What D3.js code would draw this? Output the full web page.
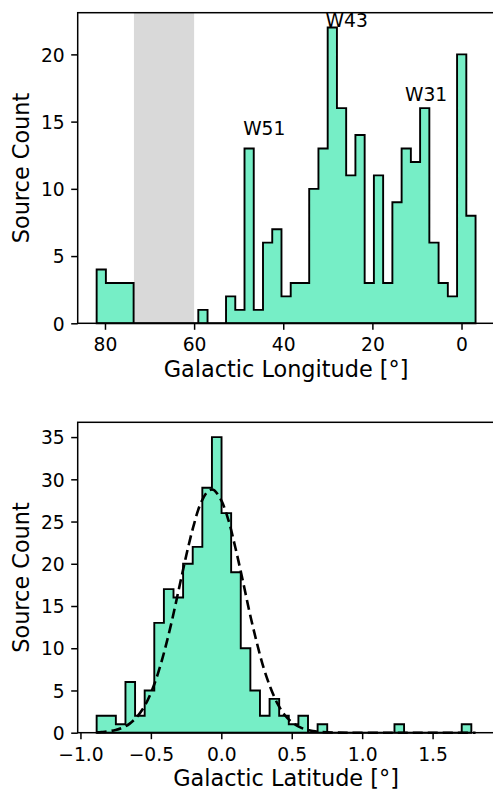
<!DOCTYPE html>
<html>
<head>
<meta charset="utf-8">
<script src="https://cdn.jsdelivr.net/npm/d3@7"></script>
<style>
  body { margin: 0; background: #fff; }
  svg { display: block; font-family: "DejaVu Sans", sans-serif; }
</style>
</head>
<body>
<svg id="chart" width="493" height="790"></svg>
<script>
// Galactic longitude histogram (counts per bin, increasing l)
const lonRange = [-3.15, 81.87];
const lonCounts = [8, 20, 2, 3, 6, 16, 12, 13, 9, 3, 11, 3, 14, 11, 16, 22, 13, 10, 3, 3,
                   2, 7, 6, 1, 13, 1, 2, 0, 0, 1, 0, 0, 0, 0, 0, 0, 0, 3, 3, 3, 4];
const lonTicks = [80, 60, 40, 20, 0];
const lonCountTicks = [0, 5, 10, 15, 20];
const lonGap = [60, 73.5]; // shaded, not covered
const regionNames = ["W51", "W43", "W31"];
const regionL = [49, 30.5, 12.7];
const regionCount = [14, 22, 16.5];

// Galactic latitude histogram (counts per bin, increasing b)
const latRange = [-0.885, 1.775];
const latCounts = [2, 2, 1, 6, 2, 5, 13, 17, 16, 20, 22, 29, 35, 26, 19, 10, 5, 2, 4, 2,
                   1, 2, 0, 1, 0, 0, 0, 0, 0, 0, 0, 1, 0, 0, 0, 0, 0, 0, 1];
const latTicks = [-1.0, -0.5, 0.0, 0.5, 1.0, 1.5];
const latCountTicks = [0, 5, 10, 15, 20, 25, 30, 35];

// gaussian fit
const fitB = [-0.885, -0.85, -0.8, -0.75, -0.7, -0.65, -0.6, -0.55, -0.5, -0.45, -0.4, -0.35,
              -0.3, -0.25, -0.2, -0.15, -0.1, -0.068, -0.05, 0.0, 0.05, 0.1, 0.15, 0.2, 0.25,
              0.3, 0.35, 0.4, 0.45, 0.5, 0.55, 0.6, 0.65, 0.7, 0.8, 0.9, 1.2, 1.5, 1.805];
const fitCount = [0.04, 0.08, 0.16, 0.32, 0.6, 1.08, 1.85, 3.0, 4.7, 7.0, 9.9, 13.3,
                  17.1, 20.9, 24.3, 27.0, 28.5, 28.8, 28.7, 27.5, 25.2, 21.9, 18.2, 14.3, 10.8,
                  7.7, 5.3, 3.4, 2.1, 1.26, 0.71, 0.38, 0.19, 0.09, 0.02, 0, 0, 0, 0];

const fill = "#76EEC6";
const left = 77.7, right = 494.5;
const tickFont = 18.7, labelFont = 22.4;

const svg = d3.select("#chart");

// matplotlib style 5% margins
function padded(lo, hi) {
  const m = (hi - lo) * 0.05;
  return [lo - m, hi + m];
}

function drawPanel(p) {
  const g = svg.append("g");
  const x = d3.scaleLinear().domain(p.xDomain).range([left, right]);
  const y = d3.scaleLinear().domain([0, d3.max(p.counts) * 1.05]).range([p.bottom, p.top]);

  if (p.gap) {
    g.append("rect")
      .attr("x", x(p.gap[1]))
      .attr("y", p.top)
      .attr("width", x(p.gap[0]) - x(p.gap[1]))
      .attr("height", p.bottom - p.top)
      .attr("fill", "#d9d9d9");
  }

  // step filled histogram outline
  const n = p.counts.length;
  const w = (p.range[1] - p.range[0]) / n;
  const pts = [[p.range[0], 0]];
  p.counts.forEach((c, i) => {
    pts.push([p.range[0] + i * w, c]);
    pts.push([p.range[0] + (i + 1) * w, c]);
  });
  pts.push([p.range[1], 0]);
  g.append("path")
    .attr("d", d3.line().x(d => x(d[0])).y(d => y(d[1]))(pts) + "Z")
    .attr("fill", fill)
    .attr("stroke", "#000")
    .attr("stroke-width", 1.9)
    .attr("stroke-linejoin", "miter");

  if (p.fit) {
    g.append("path")
      .datum(p.fit[0].map((b, i) => [b, p.fit[1][i]]))
      .attr("d", d3.line().x(d => x(d[0])).y(d => y(d[1])).curve(d3.curveCatmullRom))
      .attr("fill", "none")
      .attr("stroke", "#000")
      .attr("stroke-width", 2.6)
      .attr("stroke-dasharray", "10,5");
  }

  if (p.names) {
    p.names.forEach((t, i) => {
      g.append("text")
        .attr("x", x(p.namesX[i]))
        .attr("y", y(p.namesY[i]))
        .attr("font-size", tickFont)
        .text(t);
    });
  }

  // spines
  g.append("rect")
    .attr("x", left).attr("y", p.top)
    .attr("width", right - left).attr("height", p.bottom - p.top)
    .attr("fill", "none").attr("stroke", "#000").attr("stroke-width", 1.5);

  const xAxis = g.append("g")
    .attr("transform", `translate(0,${p.bottom})`)
    .call(d3.axisBottom(x).tickValues(p.xTicks).tickFormat(p.xFormat).tickSize(6.5));
  xAxis.select(".domain").remove();
  xAxis.selectAll("line").attr("stroke-width", 1.5);
  xAxis.selectAll("text")
    .attr("y", 27.9).attr("dy", 0)
    .attr("font-size", tickFont).attr("font-family", "DejaVu Sans").attr("fill", "#000");

  const yAxis = g.append("g")
    .attr("transform", `translate(${left},0)`)
    .call(d3.axisLeft(y).tickValues(p.yTicks).tickSize(6.5).tickPadding(6.5));
  yAxis.select(".domain").remove();
  yAxis.selectAll("line").attr("stroke-width", 1.5);
  yAxis.selectAll("text")
    .attr("dy", "0.36em")
    .attr("font-size", tickFont).attr("font-family", "DejaVu Sans").attr("fill", "#000");

  g.append("text")
    .attr("x", (left + right) / 2)
    .attr("y", p.bottom + 53.6)
    .attr("text-anchor", "middle")
    .attr("font-size", labelFont)
    .text(p.xLabel);

  g.append("text")
    .attr("transform", `translate(29,${(p.top + p.bottom) / 2}) rotate(-90)`)
    .attr("text-anchor", "middle")
    .attr("font-size", labelFont)
    .text("Source Count");
}

drawPanel({
  top: 12.7, bottom: 323.3,
  range: lonRange, counts: lonCounts,
  xDomain: padded(lonRange[0], lonRange[1]).reverse(),
  xTicks: lonTicks, xFormat: d3.format("d"),
  yTicks: lonCountTicks,
  gap: lonGap,
  names: regionNames, namesX: regionL, namesY: regionCount,
  xLabel: "Galactic Longitude [°]"
});

drawPanel({
  top: 422.3, bottom: 732.7,
  range: latRange, counts: latCounts,
  xDomain: padded(latRange[0], d3.max(fitB)),
  xTicks: latTicks, xFormat: d3.format(".1f"),
  yTicks: latCountTicks,
  fit: [fitB, fitCount],
  xLabel: "Galactic Latitude [°]"
});
</script>
</body>
</html>
